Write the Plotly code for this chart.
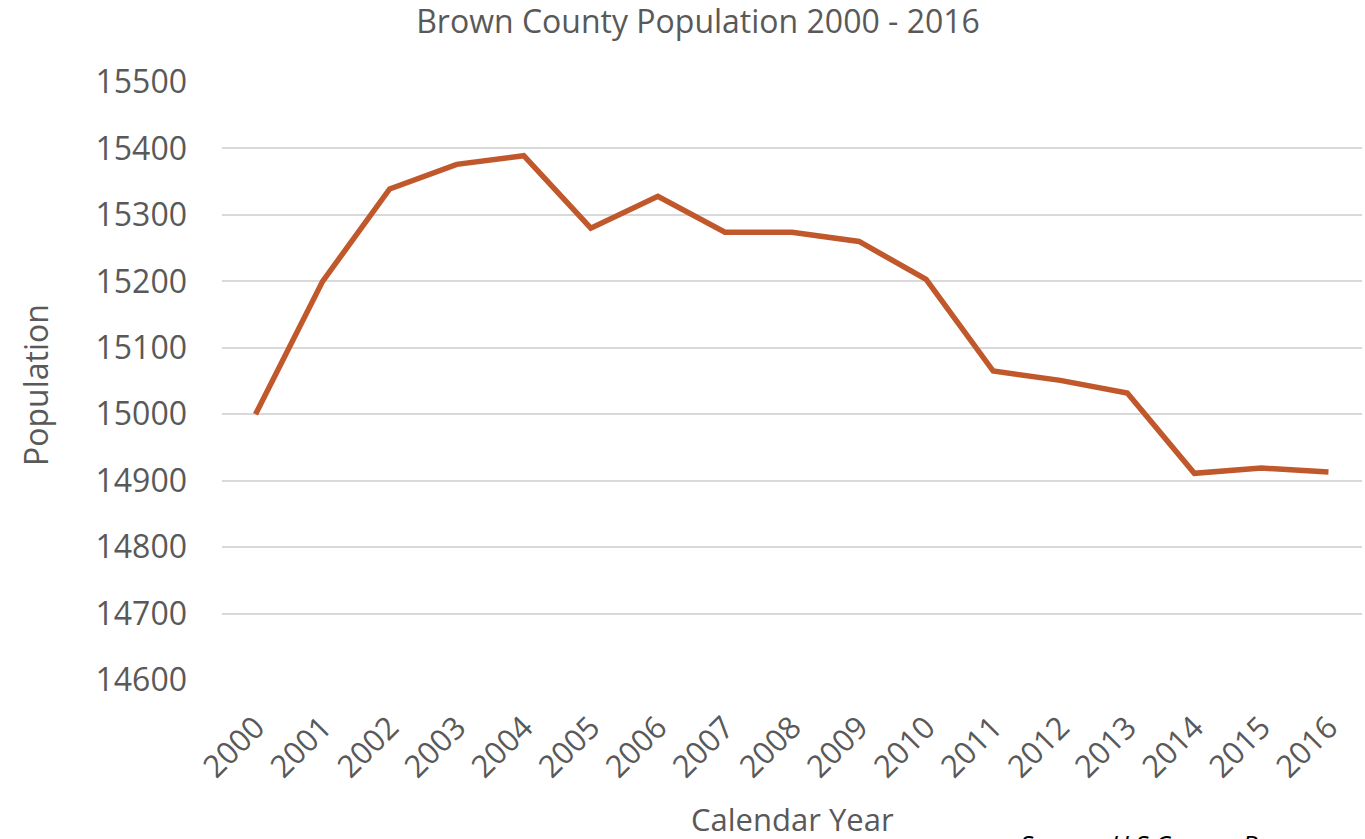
import plotly.graph_objects as go

years = [str(y) for y in range(2000, 2017)]
population = [15000, 15200, 15339, 15376, 15389, 15280, 15328, 15274, 15274,
              15260, 15203, 15065, 15051, 15032, 14911, 14919, 14913]
y_ticks = [14600, 14700, 14800, 14900, 15000, 15100, 15200, 15300, 15400, 15500]

FONT = "Open Sans"
GREY = "#595959"

fig = go.Figure()
fig.add_trace(go.Scatter(x=years, y=population, mode="lines",
                         line=dict(color="#C0582B", width=5.5),
                         hoverinfo="x+y"))

fig.update_layout(
    width=1365, height=839,
    margin=dict(l=222, r=3, t=82, b=159),
    paper_bgcolor="white", plot_bgcolor="white",
    showlegend=False,
    font=dict(family=FONT, color=GREY),
    title=dict(text="Brown County Population 2000 - 2016",
               x=698 / 1365, xanchor="center", xref="container",
               y=1 - 22 / 839, yanchor="middle", yref="container",
               font=dict(size=32, color=GREY, family=FONT)),
    xaxis=dict(type="category", range=[-0.5, 16.5], showgrid=False,
               showline=False, zeroline=False, ticks="",
               tickangle=-45, tickfont=dict(size=31, color=GREY, family=FONT),
               ticklabelstandoff=22),
    yaxis=dict(range=[14600, 15500], tickvals=y_ticks,
               ticktext=[str(v) for v in y_ticks],
               showgrid=True, gridcolor="#D9D9D9", gridwidth=1.5,
               zeroline=False, showline=False, ticks="",
               tickfont=dict(size=32, color=GREY, family=FONT),
               ticklabelstandoff=34),
    annotations=[
        dict(text="Population", xref="paper", yref="paper",
             x=-(222 - 35) / 1140, y=(680 - 385) / 598, xanchor="center", yanchor="middle",
             textangle=-90, showarrow=False,
             font=dict(size=32, color=GREY, family=FONT)),
        dict(text="Calendar Year", xref="paper", yref="paper",
             x=(792 - 222) / 1140, y=-(819 - 680) / 598,
             xanchor="center", yanchor="middle", showarrow=False,
             font=dict(size=31, color=GREY, family=FONT)),
        dict(text="<i>Source: U.S.Census Bureau</i>", xref="paper", yref="paper",
             x=(1018 - 222) / 1140, y=-(824 - 680) / 598,
             xanchor="left", yanchor="top", showarrow=False,
             font=dict(size=26, color="#000000", family=FONT)),
    ],
)

fig.write_html("out.html")
